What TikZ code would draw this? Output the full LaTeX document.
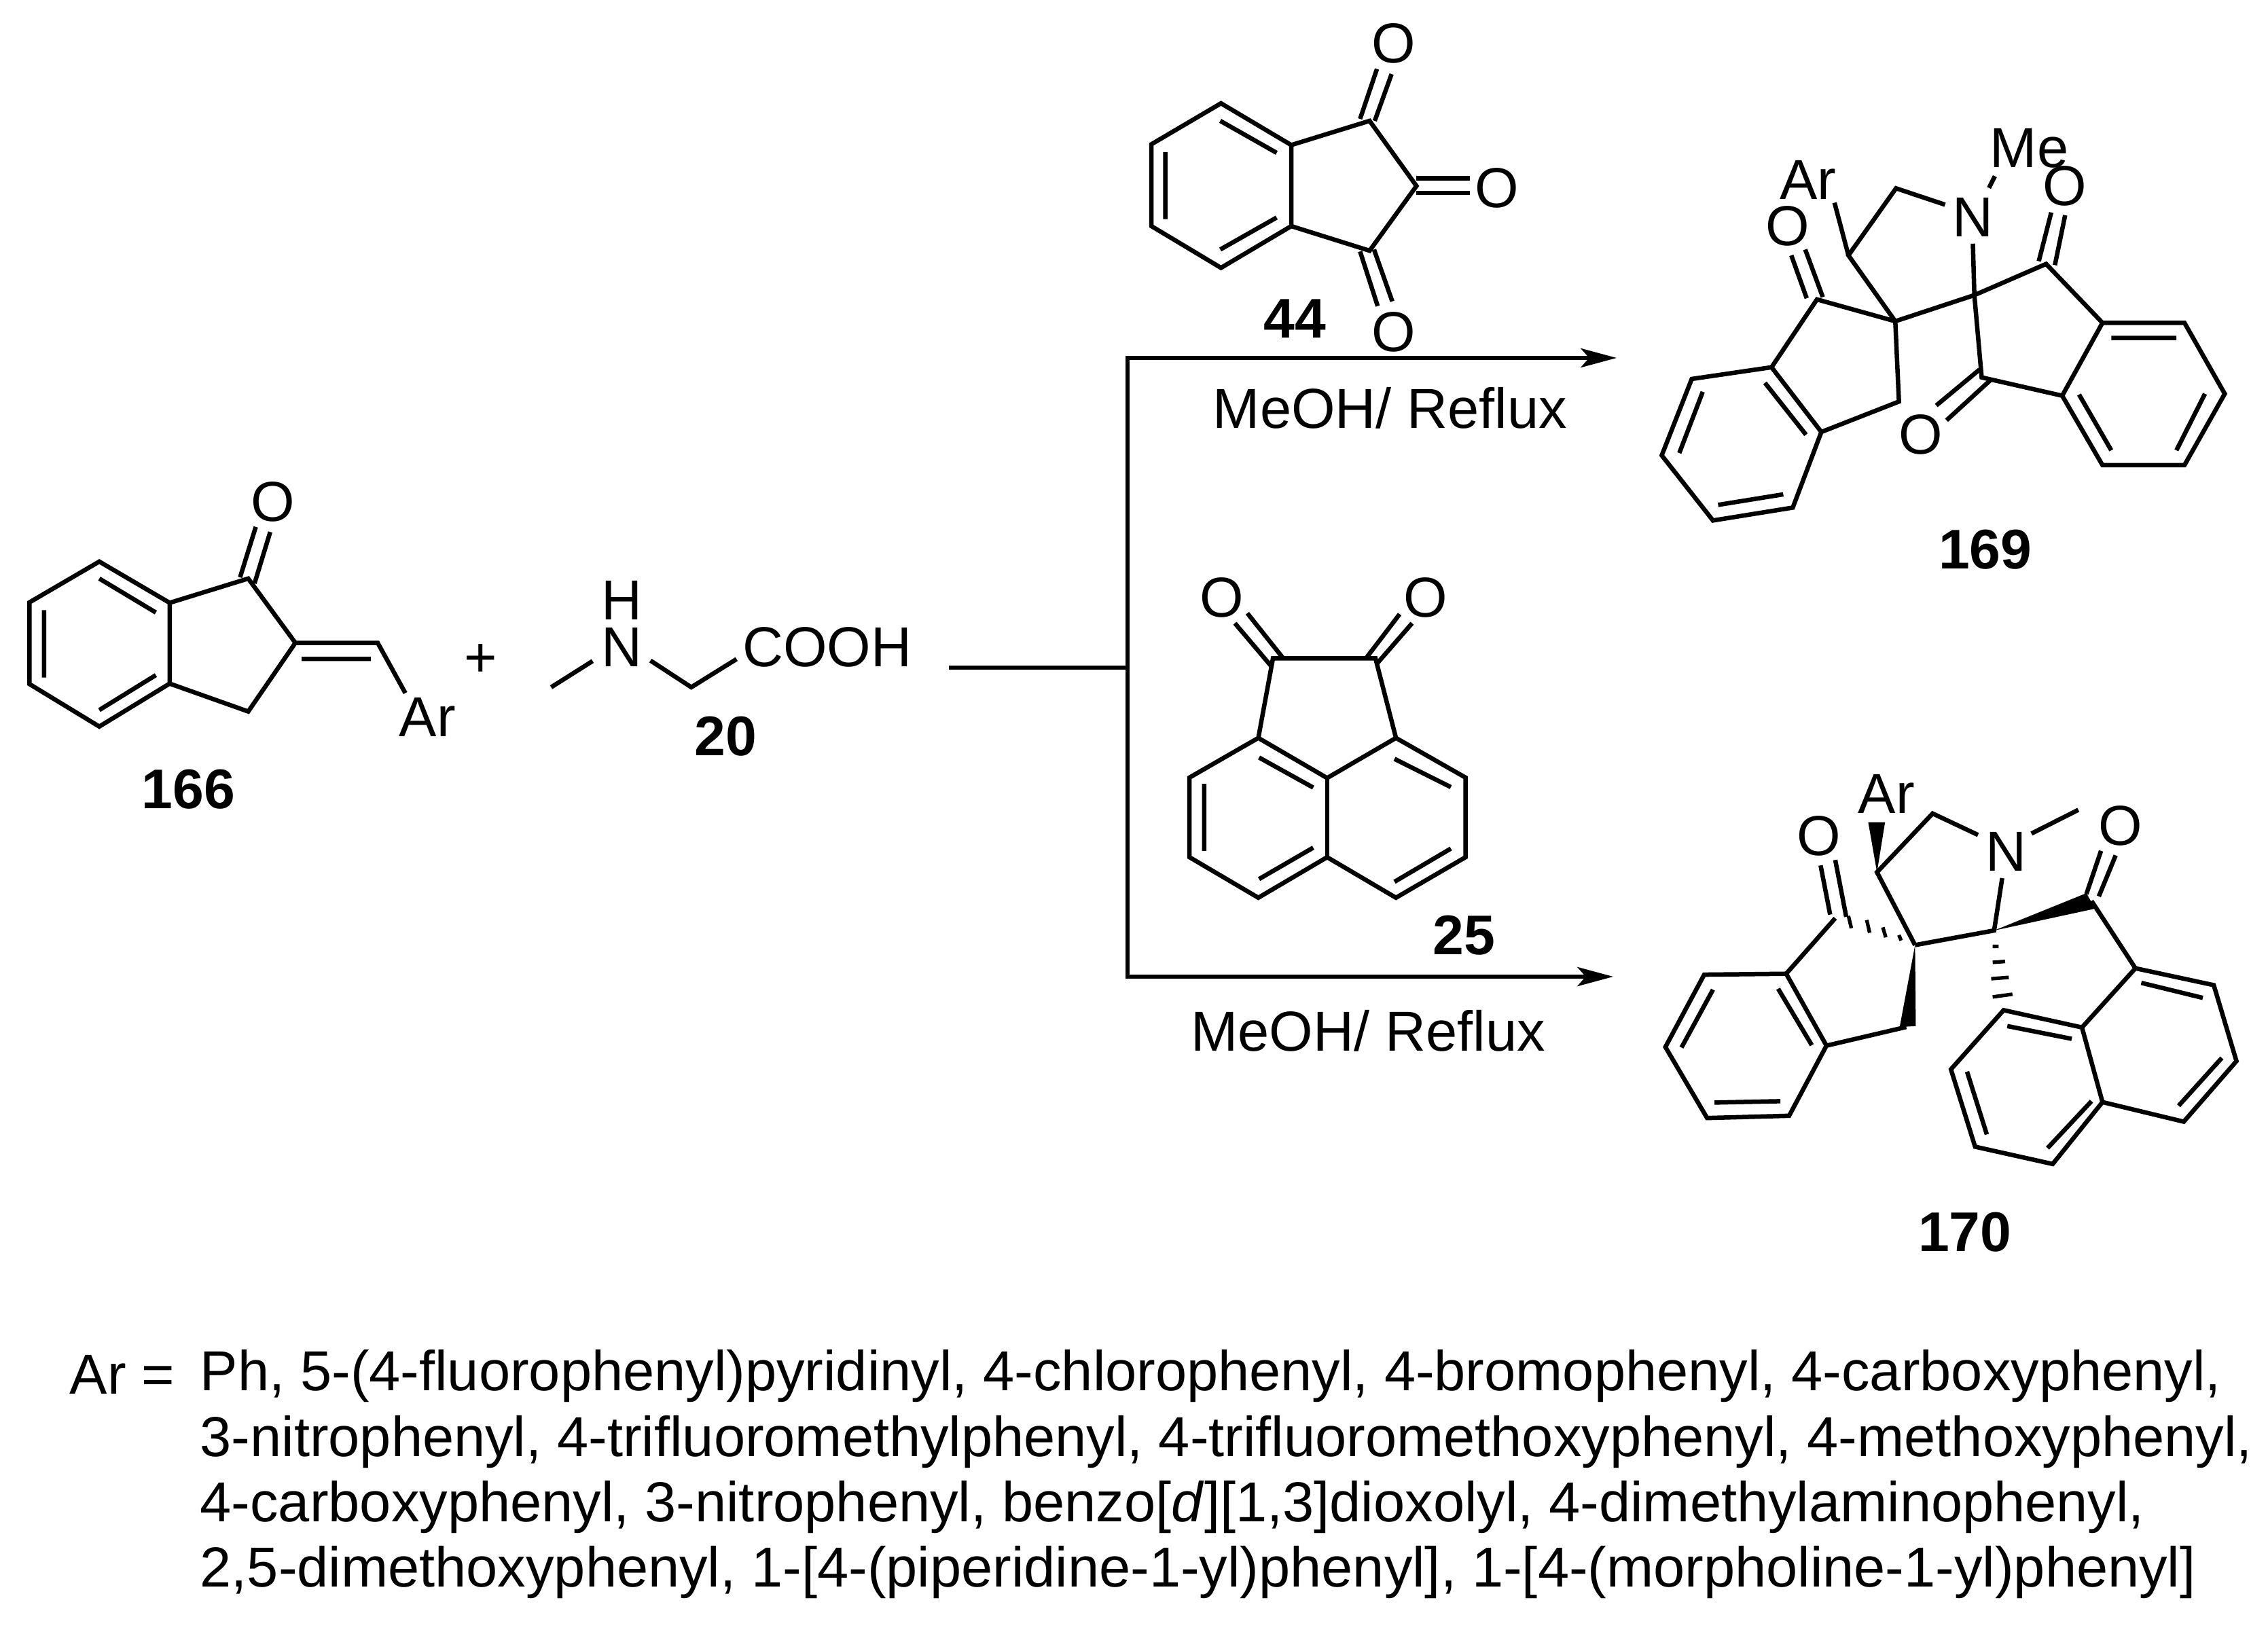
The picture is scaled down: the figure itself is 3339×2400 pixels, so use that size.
\documentclass[tikz,border=0pt]{standalone}
\usepackage{fontspec}
\setmainfont{Liberation Sans}
\usetikzlibrary{arrows.meta}
\newcommand{\atoms}[2]{\foreach \n/\X/\Y in {#2} {\coordinate (#1\n) at (\X,\Y);}}
\tikzset{
  bond/.style={line width=1.85pt,line join=miter,line cap=butt},
  solidwedge/.style={fill=black,draw=none},
  hashbond/.style={line width=1.5pt},
  rxn/.style={line width=1.6pt},
  rxnarrow/.style={rxn,-{Stealth[length=15pt,width=8pt,inset=3.5pt]}},
  atom/.style={inner sep=0pt,font=\fontsize{23.6}{28}\selectfont},
  cpd/.style={inner sep=0pt,font=\fontsize{23.4}{28}\selectfont\bfseries},
  listline/.style={inner sep=0pt,anchor=base west,font=\fontsize{23.6}{28}\selectfont},
  Zone/.style={shift={(16.5cm,0cm)},x=0.010776cm,y=-0.00574cm},
  Ztwo/.style={shift={(16.5cm,-8.2cm)},x=0.010776cm,y=-0.006696cm},
  Zthree/.style={shift={(0cm,-6.8cm)},x=0.009247cm,y=-0.00357cm},
}
\begin{document}
\begin{tikzpicture}[x=0.01cm,y=-0.01cm]
\useasboundingbox[fill=white] (0,0) rectangle (3339,2400);

% ---------- 166 and 20
\begin{scope}[Zthree]
\atoms{a}{1/158/410,2/270/580,3/270/913,4/158/1090,5/47/915,6/47/578,7/395/480,8/470/745,9/395/1028,10/601/745,11/645/952}
\draw[bond] (a1)--(a2)--(a3)--(a4)--(a5)--(a6)--cycle;
\draw[bond] (a2)--(a7)--(a8)--(a9)--(a3);
\draw[bond] (a8)--(a10)--(a11);
\draw[bond] (158,480)--(248,620) (70,610)--(70,888) (158,1022)--(248,878) (480,811)--(590,811);
\draw[bond] (382,475)--(407,267) (405,500)--(430,288);
\node[atom] (o166) at (434,165) {O};
\node[atom] (ar166) at (680,1052) {Ar};
\node[atom] (plus) at (765,817) {+};
\node[cpd] (n166) at (300,1350) {166};
\atoms{g}{1/877/928,2/943/820,3/1035/818,4/1100/928,5/1172/812}
\draw[bond] (g1)--(g2) (g3)--(g4)--(g5);
\node[atom] (hg) at (990,570) {H};
\node[atom] (ng) at (990,763) {N};
\node[atom,anchor=west] (cooh) at (1181,763) {COOH};
\node[cpd] (n20) at (1155,1130) {20};
\end{scope}

% ---------- scheme lines
\coordinate (stub) at (1397,983);
\coordinate (junction) at (1660,983);
\coordinate (top) at (1660,527);
\coordinate (bottom) at (1660,1438);
\coordinate (tiptop) at (2380,527);
\coordinate (tipbottom) at (2375,1438);
\draw[rxn] (stub)--(junction);
\draw[rxnarrow] (tiptop -| top) -- (tiptop);
\draw[rxn,line cap=rect] (top)--(bottom);
\draw[rxnarrow] (bottom)--(tipbottom);

% ---------- 44 and 169
\begin{scope}[Zone]
\atoms{b}{1/136/265,2/232/372,3/232/580,4/136/687,5/41/580,6/41/370,7/339/310,8/403/477,9/339/643}
\draw[bond] (b1)--(b2)--(b3)--(b4)--(b5)--(b6)--cycle;
\draw[bond] (b2)--(b7)--(b8)--(b9)--(b3);
\draw[bond] (135,310)--(212,392) (60,390)--(60,562) (135,640)--(212,558);
\draw[bond] (326,305)--(349,177) (346,310)--(369,190);
\draw[bond] (326,645)--(350,785) (345,640)--(370,773);
\draw[bond] (403,457)--(476,457) (403,495)--(476,495);
\node[atom] (o44a) at (372,112) {O};
\node[atom] (o44b) at (513,482) {O};
\node[atom] (o44c) at (372,852) {O};
\node[cpd] (n44) at (237,817) {44};
\node[atom] (mr1) at (367,1047) {MeOH/ Reflux};

\atoms{c}{1/888/942,2/956/1108,3/917/1302,4/808/1335,5/738/1168,6/779/972,7/950/768,8/1057/824,9/1062/1030,10/993/655,11/1058/483,12/1125/525,13/974/520,14/1163/625,15/1165/757,16/1263/677,17/1340/828,18/1285/1015,19/1175/968,20/1452/828,21/1507/1010,22/1452/1193,23/1340/1193}
\draw[bond] (c1)--(c2)--(c3)--(c4)--(c5)--(c6)--cycle;
\draw[bond] (c1)--(c7)--(c8)--(c9)--(c2);
\draw[bond] (c8)--(c10)--(c11)--(c12);
\draw[bond] (c10)--(c13);
\draw[bond] (c14)--(c15)--(c19)--(c18);
\draw[bond] (c8)--(c15)--(c16)--(c17)--(c18);
\draw[bond] (c17)--(c20)--(c21)--(c22)--(c23)--(c18);
\draw[bond] (879,982)--(935,1115) (762,1162)--(794,1005) (815,1295)--(904,1268);
\draw[bond] (1352,867)--(1441,867) (1480,1010)--(1441,1155) (1352,1155)--(1308,1012);
\draw[bond] (936,765)--(915,655) (958,762)--(934,640);
\draw[bond] (1253,670)--(1270,545) (1275,680)--(1289,552);
\draw[bond] (1172,948)--(1113,1040) (1187,975)--(1127,1078);
\draw[bond] (1185,482)--(1193,452);
\node[atom] (o169a) at (910,580) {O};
\node[atom] (o169b) at (1288,477) {O};
\node[atom] (o169c) at (1092,1115) {O};
\node[atom] (ar169) at (938,462) {Ar};
\node[atom] (n169) at (1163,557) {N};
\node[atom] (me169) at (1240,380) {Me};
\node[cpd] (l169) at (1180,1410) {169};
\end{scope}

% ---------- 25 and 170
\begin{scope}[Ztwo]
\atoms{d}{1/207/222,2/347/222,3/187/397,4/375/397,5/93/484,6/93/659,7/187/748,8/281/659,9/375/748,10/470/659,11/470/484,12/281/485}
\draw[bond] (d3)--(d1)--(d2)--(d4);
\draw[bond] (d3)--(d5)--(d6)--(d7)--(d8)--(d9)--(d10)--(d11)--(d4)--(d12)--cycle;
\draw[bond] (d12)--(d8);
\draw[bond] (188,440)--(262,506) (113,498)--(113,645) (188,707)--(262,638) (373,713)--(450,640) (373,443)--(450,505);
\draw[bond] (172,123)--(220,220) (155,145)--(205,240);
\draw[bond] (380,125)--(335,220) (397,145)--(350,232);
\node[atom] (o25a) at (137,88) {O};
\node[atom] (o25b) at (415,88) {O};
\node[cpd] (n25) at (468,830) {25};
\node[atom] (mr2) at (337,1040) {MeOH/ Reflux};

\atoms{e}{1/908/915,2/796/917,3/743/1076,4/800/1232,5/912/1227,6/963/1073,7/975/793,8/1084/852,9/1072/1032,10/1032/692,11/1108/563,12/1170/610,13/1203/705,14/1192/820,15/1325/755,16/1385/903,17/1492/940,18/1523/1107,19/1451/1240,20/1340/1197,21/1312/1033,22/1205/995,23/1133/1125,24/1166/1295,25/1272/1333,26/1243/607,27/1307/555}
\draw[bond] (e1)--(e2)--(e3)--(e4)--(e5)--(e6)--cycle;
\draw[bond] (e1)--(e7);
\draw[bond] (e6)--(e9);
\fill[solidwedge] (e8)--(1063,1032)--(1085,1030)--cycle;
\draw[bond] (e8)--(e10)--(e11)--(e12);
\fill[solidwedge] (e10)--(1020,582)--(1043,582)--cycle;
\draw[bond] (e13)--(e14)--(e8);
\draw[bond] (e26)--(e27);
\fill[solidwedge] (e14)--(1330,772)--(1318,738)--cycle;
\draw[bond] (e15)--(e16);
\draw[bond] (e16)--(e17)--(e18)--(e19)--(e20)--(e21)--cycle;
\draw[bond] (e21)--(e22)--(e23)--(e24)--(e25)--(e20);
\draw[bond] (897,948)--(943,1072) (765,1077)--(808,950) (810,1198)--(900,1195);
\draw[bond] (1393,935)--(1477,968) (1503,1100)--(1444,1205) (1210,1030)--(1298,1058) (1155,1130)--(1182,1268) (1265,1298)--(1325,1195);
\draw[bond] (968,785)--(955,677) (990,790)--(975,665);
\draw[bond] (1318,740)--(1338,645) (1335,745)--(1358,655);
\draw[hashbond] (993,788)--(997,815) (1018,797)--(1022,825) (1040,813)--(1044,835) (1062,830)--(1065,842);
\draw[hashbond] (1190,855)--(1198,855) (1190,890)--(1207,888) (1188,926)--(1212,923) (1190,966)--(1217,960);
\node[atom] (o170a) at (953,612) {O};
\node[atom] (o170b) at (1365,590) {O};
\node[atom] (ar170) at (1045,520) {Ar};
\node[atom] (n170) at (1208,647) {N};
\node[cpd] (l170) at (1152,1482) {170};
\end{scope}

% ---------- list
\node[listline] (arlist) at (102,2052) {Ar =};
\node[listline] (l1) at (294,2047) {Ph, 5-(4-fluorophenyl)pyridinyl, 4-chlorophenyl, 4-bromophenyl, 4-carboxyphenyl,};
\node[listline] (l2) at (294,2144) {3-nitrophenyl, 4-trifluoromethylphenyl, 4-trifluoromethoxyphenyl, 4-methoxyphenyl,};
\node[listline] (l3) at (294,2240) {4-carboxyphenyl, 3-nitrophenyl, benzo[\textit{d}][1,3]dioxolyl, 4-dimethylaminophenyl,};
\node[listline] (l4) at (294,2336) {2,5-dimethoxyphenyl, 1-[4-(piperidine-1-yl)phenyl], 1-[4-(morpholine-1-yl)phenyl]};
\end{tikzpicture}
\end{document}
